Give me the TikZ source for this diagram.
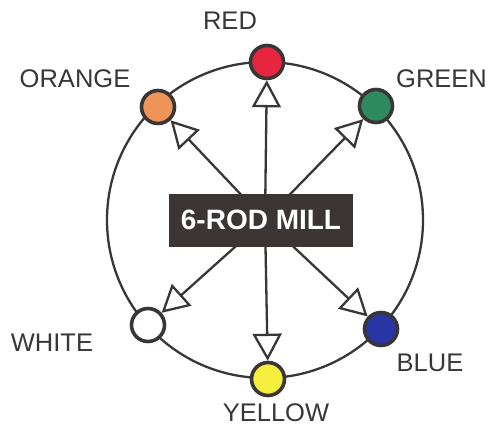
\documentclass[tikz,border=0pt]{standalone}
\usepackage{fontspec}
\setmainfont{Liberation Sans}
\usetikzlibrary{arrows.meta}
\definecolor{ink}{HTML}{3A3636}
\definecolor{boxc}{HTML}{3B3535}
\definecolor{redc}{HTML}{E8253F}
\definecolor{orangec}{HTML}{F0955A}
\definecolor{greenc}{HTML}{2D8A60}
\definecolor{bluec}{HTML}{2A35A5}
\definecolor{yellowc}{HTML}{F6EE3C}
\begin{document}
\begin{tikzpicture}[x=1pt,y=-1pt,
  dot/.style={circle, draw=ink, line width=3.6pt, minimum size=33pt, inner sep=0pt},
  lbl/.style={text=ink, font=\fontsize{25.5}{26}\selectfont, inner sep=0pt},
  ray/.style={draw=ink, line width=2.3pt, -{Triangle[open,length=27pt,width=29pt,line width=2.3pt]}},
  ring/.style={draw=ink, line width=2.3pt},
  millbox/.style={fill=boxc, text=white, minimum width=184pt, minimum height=53pt, inner sep=0pt, font=\bfseries\fontsize{28}{28}\selectfont}]
\useasboundingbox (0,0) rectangle (489,428);
\coordinate (c) at (265,220);
\draw[ring] (c) circle[radius=158pt];
\node[dot, fill=redc] (red) at (267,62) {};
\node[dot, fill=orangec] (orange) at (158,107) {};
\node[dot, fill=greenc] (green) at (376,106) {};
\node[dot, fill=bluec] (blue) at (381,329) {};
\node[dot, fill=yellowc] (yellow) at (268,379) {};
\node[dot, fill=white] (white) at (148,325) {};
\foreach \n in {red,orange,green,blue,yellow,white}
  \draw[ray] (c) -- (\n);
\node[millbox] (mill) at (261,220) {6-ROD MILL};
\node[lbl] (lred) at (230,21) {RED};
\node[lbl] (lorange) at (75,79) {ORANGE};
\node[lbl, anchor=west] (lgreen) at (396,79) {GREEN};
\node[lbl] (lwhite) at (52,343) {WHITE};
\node[lbl] (lblue) at (430,363) {BLUE};
\node[lbl] (lyellow) at (276,413) {YELLOW};
\end{tikzpicture}
\end{document}
